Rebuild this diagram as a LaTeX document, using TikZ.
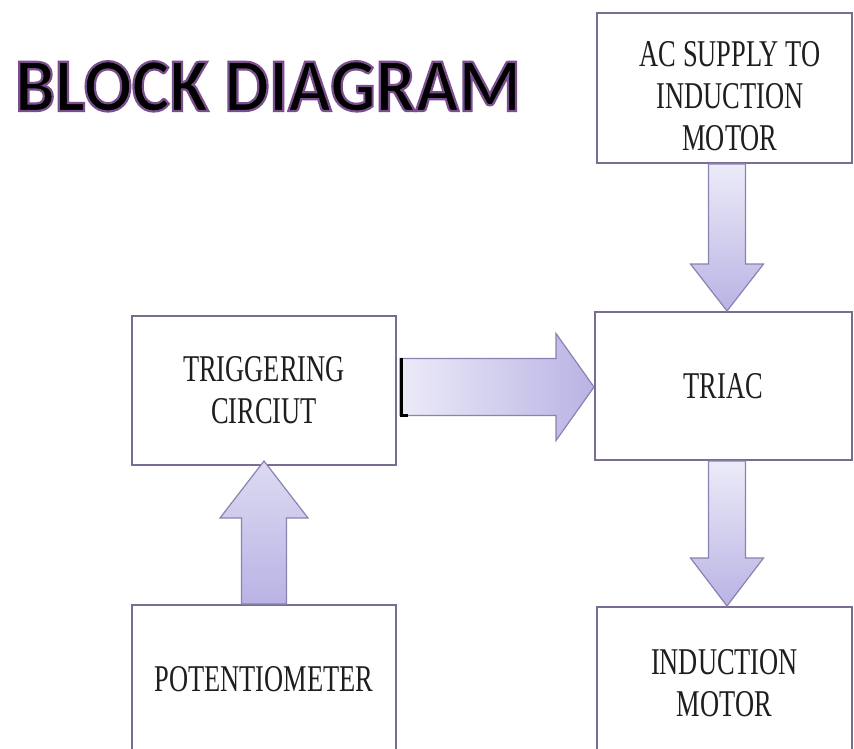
\documentclass[tikz,border=0pt]{standalone}
\usepackage{fontspec}
\usetikzlibrary{calc}
\newfontfamily\boxfont[FakeStretch=0.70]{Liberation Serif}
\newfontfamily\titlefont[FakeStretch=0.935]{Carlito}
\definecolor{boxline}{HTML}{7A6C92}
\definecolor{arrline}{HTML}{8A82B0}
\definecolor{txt}{HTML}{1E1E1E}
\definecolor{titlepurple}{HTML}{7B4F8E}
\definecolor{arrlight}{HTML}{ECEBF8}
\definecolor{arrdark}{HTML}{B9B3E4}
\tikzset{
  blk/.style={draw=boxline, line width=2pt, rectangle, inner sep=0pt, text=txt, align=center,
    font={\boxfont\fontsize{37.8}{42}\selectfont}},
  blktext/.style={inner sep=0pt, text=txt, align=center, font={\boxfont\fontsize{37.8}{42}\selectfont}},
  fatarrow/.style={draw=arrline, line width=1.2pt, line join=miter},
  ttl/.style={inner sep=0pt, anchor=base west, font={\titlefont\bfseries\fontsize{76}{80}\selectfont}}
}
% #1 tail, #2 tip, #3 shaft half width, #4 head half width, #5 head length, #6 options
\newcommand\blockarrow[6]{%
  \path[fatarrow,#6] let \p1=(#1), \p2=(#2),
      \n1={veclen(\x2-\x1,\y2-\y1)}, \n2={atan2(\y2-\y1,\x2-\x1)} in
    [shift={(\p1)}, rotate=\n2]
    (0pt,{#3*1pt}) -- ({\n1*1pt-#5*1pt},{#3*1pt}) -- ({\n1*1pt-#5*1pt},{#4*1pt})
    -- ({\n1*1pt},0pt) -- ({\n1*1pt-#5*1pt},{-#4*1pt}) -- ({\n1*1pt-#5*1pt},{-#3*1pt})
    -- (0pt,{-#3*1pt}) -- cycle;%
}
\newcommand\titletext{BLOCK DIAGRAM}
\newcommand\purpleedge[1]{\special{pdf:literal direct 2 Tr 2.2 w 0.482 0.31 0.557 RG}#1\special{pdf:literal direct 0 Tr}}
\begin{document}
\begin{tikzpicture}[x=1pt,y=-1pt]
\useasboundingbox (0,0) rectangle (854,749);
\fill[white] (0,0) rectangle (854,749);

% title: black letters with purple edges, one text
\node[ttl, text=black] (title) at (15,111) {\purpleedge{\titletext}};

% boxes
\node[blk, minimum width=255pt, minimum height=150pt] (ac) at (724.5,88) {};
\node[blktext] (actext) at (730,96) {AC SUPPLY TO\\INDUCTION\\MOTOR};
\node[blk, minimum width=257pt, minimum height=148pt] (triac) at (723.5,386) {TRIAC};
\node[blk, minimum width=264pt, minimum height=149pt] (trig) at (264,390.5) {TRIGGERING\\CIRCIUT};
\node[blk, minimum width=264pt, minimum height=149pt] (pot) at (264,679.5) {POTENTIOMETER};
\node[blk, minimum width=255pt, minimum height=153pt] (im) at (724.5,683.5) {INDUCTION\\MOTOR};

% arrow end points
\coordinate (a1s) at ($(ac.south)+(2.5,0)$);
\coordinate (a1e) at (a1s |- triac.north);
\coordinate (a2s) at ($(trig.east)+(3,-3.5)$);
\coordinate (a2e) at (triac.west |- a2s);
\coordinate (a3s) at (pot.north);
\coordinate (a3e) at ($(trig.south)+(0,-5)$);
\coordinate (a4s) at ($(triac.south)+(3.5,0)$);
\coordinate (a4e) at (a4s |- im.north);

% block arrows
\blockarrow{a1s}{a1e}{18.5}{36.5}{47}{top color=arrlight, bottom color=arrdark}
\blockarrow{a2s}{a2e}{28.5}{53.5}{38}{left color=arrlight, right color=arrdark}
\blockarrow{a3s}{a3e}{22.5}{44}{57}{top color=arrlight!70!arrdark, bottom color=arrdark}
\blockarrow{a4s}{a4e}{18.5}{36.5}{48}{top color=arrlight, bottom color=arrdark}

% dark mark at the tail of the right arrow
\draw[line width=3pt, black] ($(a2s)+(1.5,-29)$) -- ($(a2s)+(1.5,28)$) -- ($(a2s)+(8,28)$);
\end{tikzpicture}
\end{document}
